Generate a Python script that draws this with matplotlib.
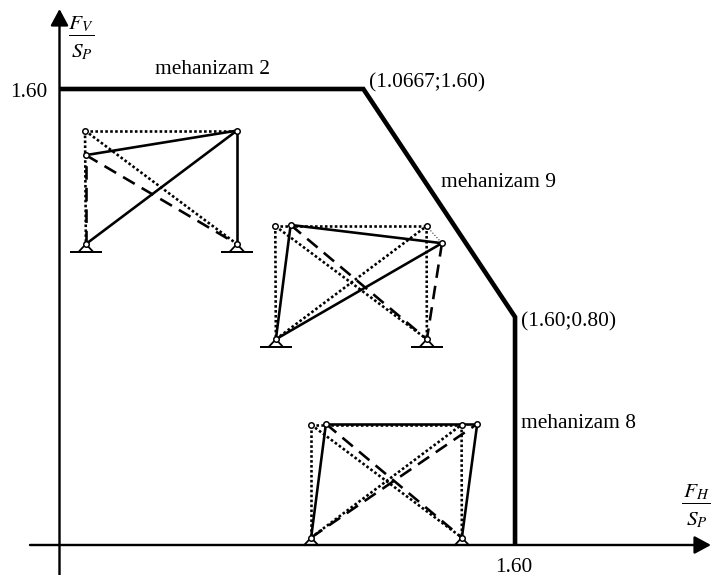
"""Interaction diagram F_V/S_P vs F_H/S_P with the three collapse mechanisms."""
import matplotlib
matplotlib.use("Agg")
import matplotlib.pyplot as plt

plt.rcParams["font.family"] = ["Liberation Serif", "DejaVu Serif"]
plt.rcParams["mathtext.fontset"] = "stix"

# envelope, in units of F_H/S_P and F_V/S_P
ENV_X = [0.0, 1.0667, 1.60, 1.60]
ENV_Y = [1.60, 1.60, 0.80, 0.0]

# joints of the undeformed frames and of the displaced ones
F1 = dict(TL=(0.088, 1.454), TR=(0.622, 1.454), BL=(0.091, 1.056), BR=(0.622, 1.056),
          DL=(0.091, 1.368), DR=(0.622, 1.454))
F2 = dict(TL=(0.757, 1.119), TR=(1.289, 1.119), BL=(0.759, 0.722), BR=(1.290, 0.722),
          DL=(0.811, 1.123), DR=(1.343, 1.059))
F3 = dict(TL=(0.883, 0.422), TR=(1.412, 0.422), BL=(0.883, 0.026), BR=(1.413, 0.026),
          DL=(0.935, 0.425), DR=(1.467, 0.425))

F1_SOLID = [("DL", "TR"), ("BL", "TR"), ("TR", "BR")]
F1_DASHED = [("BL", "DL"), ("DL", "BR")]
F1_DOTTED = [("TL", "TR"), ("TL", "BL"), ("TL", "BR")]

F2_SOLID = [("BL", "DL"), ("DL", "DR"), ("BL", "DR")]
F2_DASHED = [("DL", "BR"), ("DR", "BR")]
F2_DOTTED = [("TL", "TR"), ("TL", "BL"), ("TR", "BR"), ("TL", "BR"), ("BL", "TR")]

F3_SOLID = [("BL", "DL"), ("DL", "DR"), ("BR", "DR")]
F3_DASHED = [("DL", "BR"), ("BL", "DR")]
F3_DOTTED = [("TL", "TR"), ("TL", "BL"), ("TR", "BR"), ("TL", "BR"), ("BL", "TR")]

FRAMES = [
    (F1, F1_SOLID, F1_DASHED, F1_DOTTED, ["TL", "DL", "TR"]),
    (F2, F2_SOLID, F2_DASHED, F2_DOTTED, ["TL", "TR", "DL", "DR"]),
    (F3, F3_SOLID, F3_DASHED, F3_DOTTED, ["TL", "TR", "DL", "DR"]),
]

PX = 0.72  # points per pixel at dpi 100
SX = 284.4  # pixels per unit
SY = 285.0

fig = plt.figure(figsize=(7.11, 5.75), dpi=100)
ax = fig.add_axes([0, 0, 1, 1])
ax.set_xlim(-60 / SX, 651 / SX)
ax.set_ylim(-30 / SY, 545 / SY)
ax.axis("off")


def pos(px, py):
    """picture pixels to data units, only for placing labels"""
    return (px - 60) / SX, (545 - py) / SY


# axes with arrow heads
arrow = dict(arrowstyle="-|>,head_length=0.5,head_width=0.27", color="black",
             lw=2.4 * PX, shrinkA=0, shrinkB=0, mutation_scale=20)
ax.annotate("", xy=pos(711, 545), xytext=pos(30, 545), arrowprops=arrow)
ax.annotate("", xy=pos(59.5, 9), xytext=pos(59.5, 575), arrowprops=arrow)

ax.plot(ENV_X, ENV_Y, color="black", lw=4.6 * PX, solid_joinstyle="miter",
        solid_capstyle="butt")


def draw_frame(joints, solid, dashed, dotted, nodes):
    for a, b in dotted:
        ax.plot(*zip(joints[a], joints[b]), color="black", lw=2.6 * PX,
                linestyle=(0, (1, 0.9)), zorder=2)
    for a, b in dashed:
        ax.plot(*zip(joints[a], joints[b]), color="black", lw=2.6 * PX,
                linestyle=(0, (5.2, 3.1)), zorder=3)
    for a, b in solid:
        ax.plot(*zip(joints[a], joints[b]), color="black", lw=2.6 * PX, zorder=3,
                solid_capstyle="round")
    # supports
    for key in ("BL", "BR"):
        x, y = joints[key]
        ax.plot([x - 7 / SX, x, x + 7 / SX], [y - 7.5 / SY, y, y - 7.5 / SY],
                color="black", lw=1.8 * PX, zorder=4)
        ax.plot([x - 15 / SX, x + 15 / SX], [y - 7.5 / SY, y - 7.5 / SY],
                color="black", lw=2.0 * PX, zorder=4)
    keys = nodes + ["BL", "BR"]
    ax.plot([joints[k][0] for k in keys], [joints[k][1] for k in keys], "o", ms=5.5 * PX,
            mfc="white", mec="black", mew=1.5 * PX, zorder=5)


for frame in FRAMES:
    draw_frame(*frame)

# thin link between the top right joint of the middle frame and its displaced place
ax.plot(*zip(F2["TR"], F2["DR"]), color="black", lw=1 * PX, linestyle=(0, (1, 2)), zorder=2)

FS = 15.4
labels = [
    ("1.60", 10, 92.5, "left"),
    ("mehanizam 2", 155, 69.5, "left"),
    ("(1.0667;1.60)", 369, 82.5, "left"),
    ("mehanizam 9", 441, 182.5, "left"),
    ("(1.60;0.80)", 521, 321.5, "left"),
    ("mehanizam 8", 521, 423, "left"),
    ("1.60", 514, 567, "center"),
]
for txt, px, py, ha in labels:
    x, y = pos(px, py)
    ax.text(x, y, txt, fontsize=FS, ha=ha, va="center", color="black")

# fractions on the axes
for top, cx, cy, x0, x1 in [(r"$F_V$", 81, 35, 69, 94), (r"$F_H$", 696, 503, 682, 710)]:
    ax.plot([(x0 - 60) / SX, (x1 - 60) / SX], [(545 - cy) / SY] * 2, color="black", lw=1 * PX)
    ax.text(*pos(cx, cy - 11), top, fontsize=FS, ha="center", va="center")
    ax.text(*pos(cx + 1, cy + 17), r"$S_P$", fontsize=FS, ha="center", va="center")

fig.savefig("out.png", dpi=100)
